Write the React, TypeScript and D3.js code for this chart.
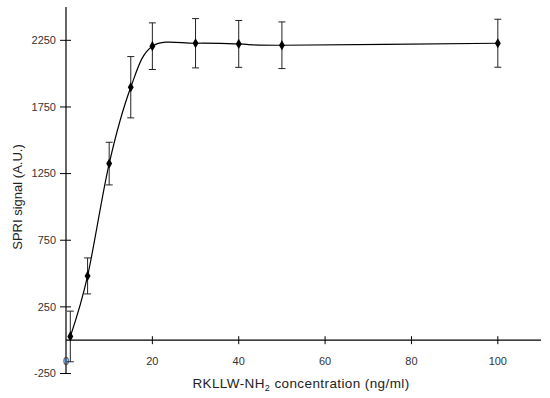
import React from "react";
import * as d3 from "d3";

const concentrations = [1, 5, 10, 15, 20, 30, 40, 50, 100];
const signals = [28, 482, 1325, 1898, 2206, 2228, 2223, 2213, 2228];
const errors = [190, 135, 160, 230, 175, 185, 176, 175, 180];
const xTicks = [0, 20, 40, 60, 80, 100];
const yTicks = [-250, 250, 750, 1250, 1750, 2250];

export default function App() {
  const W = 550, H = 398;
  const x = d3.scaleLinear().domain([0, 110]).range([66, 541]);
  const y = d3.scaleLinear().domain([-250, 2500]).range([373.5, 7]);
  const pts = concentrations.map((c, i) => [x(c), y(signals[i])] as [number, number]);
  const line = d3.line().curve(d3.curveCardinal.tension(0))(pts) || "";
  const diamond = d3.symbol().type(d3.symbolDiamond).size(30)() || "";
  const font = "'Liberation Sans', Arial, sans-serif";
  return (
    <svg width={W} height={H} style={{ position: "absolute", left: 0, top: 0 }}>
      <rect width={W} height={H} fill="#fff" />
      {/* axes */}
      <line x1={x(0)} x2={x(0)} y1={7} y2={y(-250)} stroke="#000" strokeWidth={1.2} />
      <line x1={x(0)} x2={x(110)} y1={y(0)} y2={y(0)} stroke="#000" strokeWidth={1.2} />
      {yTicks.map((t) => (
        <g key={"y" + t}>
          <line x1={x(0) - 6} x2={x(0) + 5} y1={y(t)} y2={y(t)} stroke="#000" strokeWidth={1} />
          <text x={x(0) - 10} y={y(t)} dy="0.35em" textAnchor="end" fontSize={11} fontFamily={font} fill="#333">
            {t}
          </text>
        </g>
      ))}
      {xTicks.map((t) => (
        <g key={"x" + t}>
          {t !== 0 && <line x1={x(t)} x2={x(t)} y1={y(0) - 4} y2={y(0) + 4} stroke="#000" strokeWidth={1} />}
          <text x={x(t)} y={365} textAnchor="middle" fontSize={11} fontFamily={font} fill="#333">
            {t}
          </text>
        </g>
      ))}
      {/* curve */}
      <path d={line} fill="none" stroke="#000" strokeWidth={1.2} />
      {/* error bars */}
      {concentrations.map((c, i) => {
        const cx = x(c);
        const top = y(signals[i] + errors[i]);
        const bot = y(signals[i] - errors[i]);
        return (
          <g key={"e" + i} stroke="#222" strokeWidth={1}>
            <line x1={cx} x2={cx} y1={top} y2={bot} />
            <line x1={cx - 3.5} x2={cx + 3.5} y1={top} y2={top} />
            <line x1={cx - 3.5} x2={cx + 3.5} y1={bot} y2={bot} />
          </g>
        );
      })}
      {pts.map((p, i) => (
        <path key={"m" + i} d={diamond} transform={`translate(${p[0]},${p[1]})`} fill="#000" />
      ))}
      {/* titles */}
      <text x={301} y={388} textAnchor="middle" fontSize={13.5} letterSpacing={0.4} fontFamily={font} fill="#222">
        RKLLW-NH<tspan dy={3} fontSize={9}>2</tspan>
        <tspan dy={-3}> concentration (ng/ml)</tspan>
      </text>
      <text transform="translate(22,197) rotate(-90)" textAnchor="middle" fontSize={13} fontFamily={font} fill="#222">
        SPRI signal (A.U.)
      </text>
    </svg>
  );
}
